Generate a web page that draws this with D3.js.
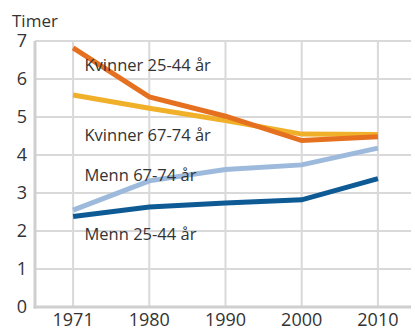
<!DOCTYPE html>
<html>
<head>
<meta charset="utf-8">
<script src="https://cdn.jsdelivr.net/npm/d3@7"></script>
<style>
  html, body { margin: 0; padding: 0; background: #fff; }
  svg { display: block; font-family: "Open Sans", "Noto Sans", sans-serif; }
</style>
</head>
<body>
<svg id="chart" width="415" height="328"></svg>
<script>
// Years on the x-axis
const years = ["1971", "1980", "1990", "2000", "2010"];
// Hours per day, by group
const kvinner2544 = [6.82, 5.53, 5.02, 4.38, 4.48];
const kvinner6774 = [5.58, 5.23, 4.91, 4.55, 4.54];
const menn6774 = [2.55, 3.32, 3.62, 3.74, 4.18];
const menn2544 = [2.38, 2.63, 2.74, 2.82, 3.38];
const yTicks = [0, 1, 2, 3, 4, 5, 6, 7];

const series = [
  { name: "Kvinner 25-44 år", values: kvinner2544, color: "#e5701f" },
  { name: "Kvinner 67-74 år", values: kvinner6774, color: "#f0b02a" },
  { name: "Menn 67-74 år", values: menn6774, color: "#9dbadd" },
  { name: "Menn 25-44 år", values: menn2544, color: "#0d5a95" }
];
// Drawing order: later series on top
const drawOrder = [2, 3, 1, 0];

// Label anchors in data units (year index, value)
const labels = [
  { text: "Kvinner 25-44 år", xi: 0.15, v: 6.22 },
  { text: "Kvinner 67-74 år", xi: 0.15, v: 4.38 },
  { text: "Menn 67-74 år", xi: 0.15, v: 3.32 },
  { text: "Menn 25-44 år", xi: 0.15, v: 1.76 }
];

const svg = d3.select("#chart");
const plotLeft = 35, plotRight = 416, plotTop = 41, plotBottom = 307;

const x = d3.scalePoint().domain(years).range([plotLeft, plotRight]).padding(0.5);
const y = d3.scaleLinear().domain([0, 7]).range([plotBottom, plotTop]);

const grid = svg.append("g");
// Horizontal grid lines
grid.selectAll("line.h").data(yTicks.filter(d => d > 0)).join("line")
  .attr("x1", plotLeft).attr("x2", 411)
  .attr("y1", d => y(d)).attr("y2", d => y(d))
  .attr("stroke", "#d9d9d9").attr("stroke-width", 2);
// Vertical grid lines at each year
grid.selectAll("line.v").data(years).join("line")
  .attr("x1", d => x(d)).attr("x2", d => x(d))
  .attr("y1", plotTop).attr("y2", plotBottom)
  .attr("stroke", "#d9d9d9").attr("stroke-width", 2);
// Axis lines
grid.append("line").attr("x1", plotLeft).attr("x2", plotLeft).attr("y1", plotTop).attr("y2", plotBottom + 1.5)
  .attr("stroke", "#cfcfcf").attr("stroke-width", 3);
grid.append("line").attr("x1", plotLeft - 1.5).attr("x2", 411).attr("y1", plotBottom).attr("y2", plotBottom)
  .attr("stroke", "#cfcfcf").attr("stroke-width", 3);

// Y tick labels
svg.append("g").selectAll("text").data(yTicks).join("text")
  .attr("x", 27).attr("y", d => y(d) + 6)
  .attr("text-anchor", "end").attr("font-size", 18).attr("fill", "#333")
  .text(d => d);

// X tick labels
svg.append("g").selectAll("text").data(years).join("text")
  .attr("x", d => x(d)).attr("y", 326)
  .attr("text-anchor", "middle").attr("font-size", 18).attr("fill", "#333")
  .text(d => d);

// Unit label
svg.append("text").attr("x", 12).attr("y", 26.5)
  .attr("font-size", 17).attr("fill", "#333").text("Timer");

// Lines
const line = d3.line().x((d, i) => x(years[i])).y(d => y(d));
svg.append("g").selectAll("path").data(drawOrder.map(i => series[i])).join("path")
  .attr("d", d => line(d.values))
  .attr("fill", "none").attr("stroke", d => d.color)
  .attr("stroke-width", 5).attr("stroke-linejoin", "miter");

// Series labels
const xi = d3.scaleLinear().domain([0, 1]).range([x(years[0]), x(years[1])]);
svg.append("g").selectAll("text").data(labels).join("text")
  .attr("x", d => xi(d.xi)).attr("y", d => y(d.v))
  .attr("font-size", 16.5).attr("fill", "#333")
  .text(d => d.text);
</script>
</body>
</html>
